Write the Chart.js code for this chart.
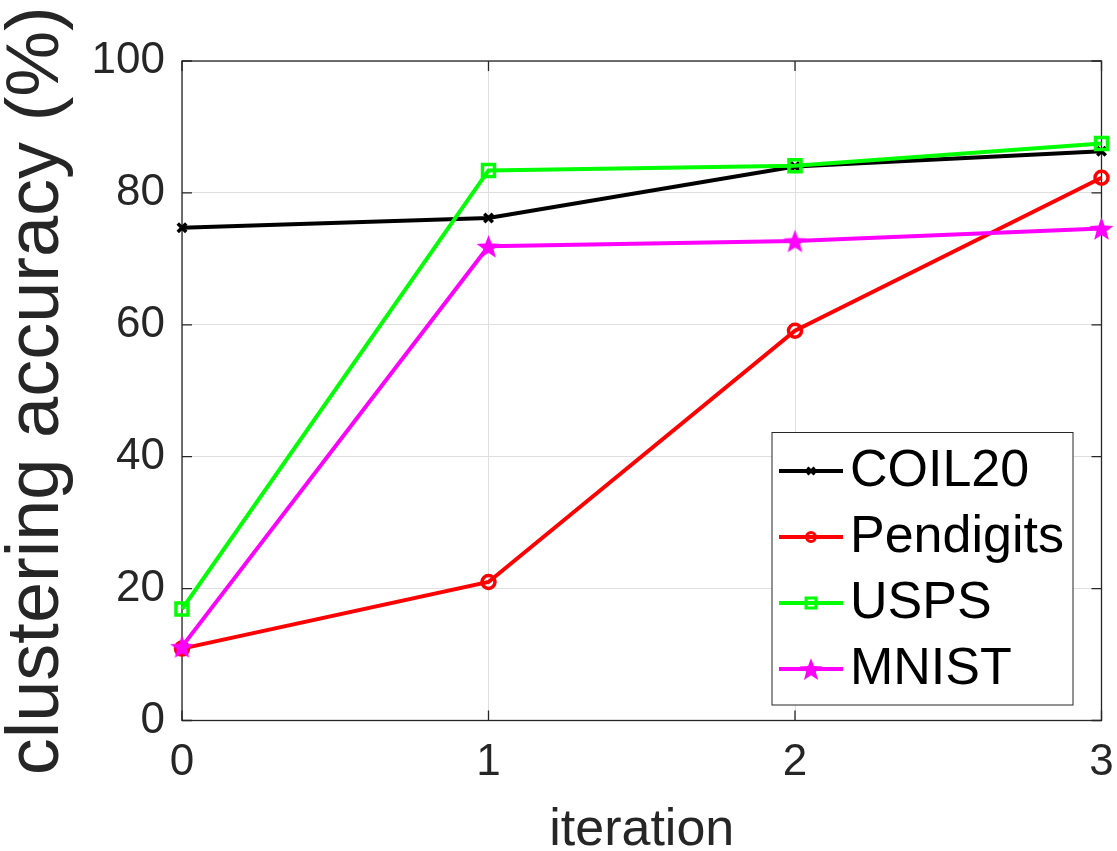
<!DOCTYPE html>
<html>
<head>
<meta charset="utf-8">
<script src="https://cdn.jsdelivr.net/npm/chart.js@4"></script>
<style>
  html, body { margin: 0; padding: 0; background: #fff; }
  #wrap { width: 1117px; height: 851px; }
</style>
</head>
<body>
<div id="wrap"><canvas id="chart"></canvas></div>
<script>
const iterations = [0, 1, 2, 3];
const coil20 = [74.7, 76.2, 84.0, 86.3];
const pendigits = [10.9, 21.0, 59.1, 82.3];
const usps = [16.9, 83.4, 84.1, 87.5];
const mnist = [11.2, 71.9, 72.7, 74.6];
const yTicks = [0, 20, 40, 60, 80, 100];

const FONT = '"Liberation Sans", Arial, Helvetica, sans-serif';
const AXIS_COLOR = "#262626";

//filled five point star, used as a point style
function makeStar(outer, color) {
  const c = document.createElement("canvas");
  const size = Math.ceil(outer * 2 + 2);
  c.width = size;
  c.height = size;
  const g = c.getContext("2d");
  const inner = outer * 0.42;
  g.beginPath();
  for (let i = 0; i < 10; i++) {
    const r = i % 2 === 0 ? outer : inner;
    const a = -Math.PI / 2 + (i * Math.PI) / 5;
    const px = size / 2 + r * Math.cos(a);
    const py = size / 2 + r * Math.sin(a) + outer * 0.1;
    if (i === 0) g.moveTo(px, py);
    else g.lineTo(px, py);
  }
  g.closePath();
  g.fillStyle = color;
  g.fill();
  return c;
}
const starImg = makeStar(12.5, "#ff00ff");
const starLegendImg = makeStar(12, "#ff00ff");

const toPoints = (vals) => vals.map((v, i) => ({ x: iterations[i], y: v }));

const series = [
  { label: "COIL20", values: coil20, color: "#000000", style: "crossRot", radius: 6, order: 3 },
  { label: "Pendigits", values: pendigits, color: "#ff0000", style: "circle", radius: 6.5, order: 2 },
  { label: "USPS", values: usps, color: "#00ff00", style: "rect", radius: 8.5, order: 1 },
  { label: "MNIST", values: mnist, color: "#ff00ff", style: starImg, radius: 12, order: 0 },
];
const legendMarks = [
  { style: "crossRot", radius: 5 },
  { style: "circle", radius: 4.5 },
  { style: "rect", radius: 7 },
  { style: starLegendImg, radius: 11 },
];

//axes box with inward ticks, drawn under the lines
const boxPlugin = {
  id: "box",
  beforeDatasetsDraw(chart) {
    const { ctx, chartArea: a, scales } = chart;
    ctx.save();
    ctx.strokeStyle = AXIS_COLOR;
    ctx.lineWidth = 1.3;
    ctx.strokeRect(a.left, a.top, a.right - a.left, a.bottom - a.top);
    ctx.beginPath();
    const len = 10;
    yTicks.forEach((t) => {
      const y = scales.y.getPixelForValue(t);
      ctx.moveTo(a.left, y);
      ctx.lineTo(a.left + len, y);
      ctx.moveTo(a.right, y);
      ctx.lineTo(a.right - len, y);
    });
    iterations.forEach((t) => {
      const x = scales.x.getPixelForValue(t);
      ctx.moveTo(x, a.bottom);
      ctx.lineTo(x, a.bottom - len);
      ctx.moveTo(x, a.top);
      ctx.lineTo(x, a.top + len);
    });
    ctx.stroke();
    ctx.restore();
  },
};

//legend box inside the lower right corner
const legendPlugin = {
  id: "innerLegend",
  afterDraw(chart) {
    const { ctx, chartArea: a } = chart;
    const right = a.right - 28.5;
    const bottom = a.bottom - 15.5;
    const left = right - 301;
    const top = bottom - 272.5;
    ctx.save();
    ctx.fillStyle = "#ffffff";
    ctx.fillRect(left, top, right - left, bottom - top);
    ctx.strokeStyle = AXIS_COLOR;
    ctx.lineWidth = 1;
    ctx.strokeRect(left, top, right - left, bottom - top);
    chart.data.datasets.forEach((ds, i) => {
      const y = top + 38.5 + i * 66;
      const x0 = left + 7;
      const x1 = left + 71;
      ctx.strokeStyle = ds.borderColor;
      ctx.lineWidth = 4;
      ctx.beginPath();
      ctx.moveTo(x0, y);
      ctx.lineTo(x1, y);
      ctx.stroke();
      const m = legendMarks[i];
      ctx.lineWidth = 3;
      ctx.strokeStyle = ds.borderColor;
      ctx.fillStyle = "rgba(0,0,0,0)";
      Chart.helpers.drawPoint(ctx, { pointStyle: m.style, radius: m.radius, rotation: 0, borderWidth: 3 }, (x0 + x1) / 2, y);
      ctx.fillStyle = "#000000";
      ctx.font = "52px " + FONT;
      ctx.textAlign = "left";
      ctx.textBaseline = "middle";
      ctx.fillText(ds.label, left + 78, y + 1);
    });
    ctx.restore();
  },
};

new Chart(document.getElementById("chart"), {
  type: "line",
  plugins: [boxPlugin, legendPlugin],
  data: {
    datasets: series.map((s) => ({
      label: s.label,
      data: toPoints(s.values),
      borderColor: s.color,
      backgroundColor: "rgba(0,0,0,0)",
      pointBorderColor: s.color,
      pointBackgroundColor: "rgba(0,0,0,0)",
      borderWidth: 4,
      pointBorderWidth: 3.5,
      pointStyle: s.style,
      pointRadius: s.radius,
      tension: 0,
      clip: false,
      order: s.order,
    })),
  },
  options: {
    responsive: true,
    maintainAspectRatio: false,
    animation: false,
    layout: { padding: { top: 61, right: 15, left: 0, bottom: 0 } },
    plugins: {
      legend: { display: false },
      tooltip: { enabled: false },
    },
    scales: {
      x: {
        type: "linear",
        min: 0,
        max: 3,
        afterFit: (s) => {
          s.height = 130.5;
          s.paddingLeft = 0;
          s.paddingRight = 0;
        },
        afterBuildTicks: (s) => { s.ticks = iterations.map((v) => ({ value: v })); },
        border: { display: false },
        grid: { color: "#dfdfdf", lineWidth: 1, drawTicks: false },
        ticks: {
          padding: 20,
          maxRotation: 0,
          autoSkip: false,
          color: AXIS_COLOR,
          font: { family: FONT, size: 44, lineHeight: 1 },
        },
        title: {
          display: true,
          text: "iteration",
          color: AXIS_COLOR,
          padding: 0,
          font: { family: FONT, size: 52, lineHeight: 0.8 },
        },
      },
      y: {
        min: 0,
        max: 100,
        afterFit: (s) => {
          s.width = 182;
          s.paddingTop = 0;
          s.paddingBottom = 0;
        },
        afterBuildTicks: (s) => { s.ticks = yTicks.map((v) => ({ value: v })); },
        border: { display: false },
        grid: { color: "#dfdfdf", lineWidth: 1, drawTicks: false },
        ticks: {
          padding: 17,
          autoSkip: false,
          color: AXIS_COLOR,
          font: { family: FONT, size: 44, lineHeight: 1 },
        },
        title: {
          display: true,
          text: "clustering accuracy (%)",
          color: AXIS_COLOR,
          padding: { top: 1, bottom: 0 },
          font: { family: FONT, size: 74, lineHeight: 1 },
        },
      },
    },
  },
});
</script>
</body>
</html>
